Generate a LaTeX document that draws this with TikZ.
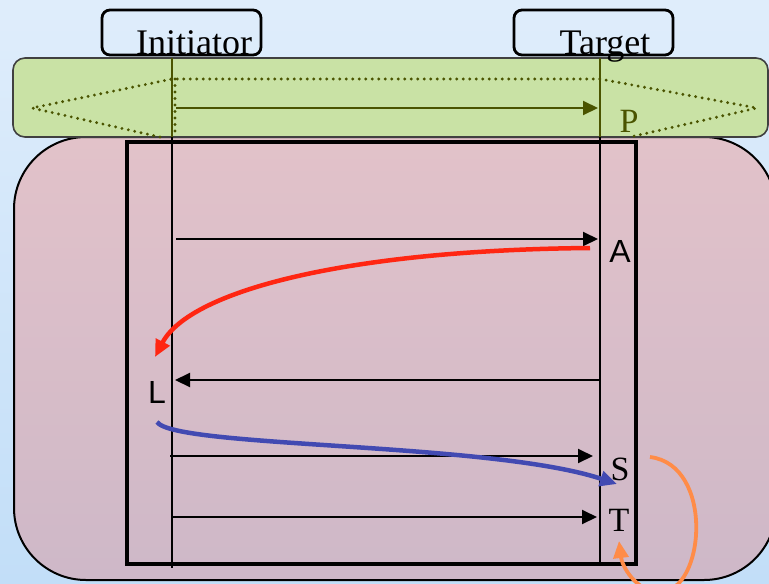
\documentclass[tikz,border=0pt]{standalone}
\usepackage{fontspec}
\setmainfont{Liberation Serif}
\newfontfamily\arialfont{Liberation Sans}
\usetikzlibrary{arrows.meta}

\definecolor{skytop}{RGB}{223,237,251}
\definecolor{skybot}{RGB}{194,222,248}
\definecolor{leaf}{RGB}{201,226,165}
\definecolor{olive}{RGB}{74,84,0}
\definecolor{rosetop}{RGB}{226,194,201}
\definecolor{rosebot}{RGB}{206,184,200}
\definecolor{redline}{RGB}{255,38,18}
\definecolor{blueline}{RGB}{66,74,178}
\definecolor{orangeline}{RGB}{255,140,72}

\tikzset{
  actor/.style={draw=black,line width=2.8pt,rounded corners=8pt,
    minimum width=159pt,minimum height=45pt,inner sep=0pt},
  title/.style={font=\fontsize{36}{40}\selectfont,inner sep=0pt},
  letter/.style={font=\fontsize{34}{38}\selectfont,inner sep=0pt},
  sansletter/.style={font=\arialfont\fontsize{32}{36}\selectfont,inner sep=0pt},
  lifeline/.style={line width=2.8pt},
  dots/.style={olive,line width=3.2pt,line cap=round,dash pattern=on 0pt off 6.5pt},
  msg/.style={line width=2pt,-{Triangle[length=15pt,width=14pt]}},
  flow/.style={line width=4.5pt,-{Triangle[length=17pt,width=15pt]}},
}

\begin{document}
\begin{tikzpicture}[x=1pt,y=-1pt]
  \useasboundingbox (0,0) rectangle (769,584);
  % backdrop
  \shade[top color=skytop,bottom color=skybot] (0,0) rectangle (769,584);

  % session area
  \shadedraw[top color=rosetop,bottom color=rosebot,draw=black,line width=2pt,
    rounded corners=72pt] (14,137) rectangle (776,580);
  % protocol band
  \draw[fill=leaf,draw=black!75,line width=1.6pt,rounded corners=12pt]
    (13,58) rectangle (768,137);
  \draw[dots] (160,137) -- (32,108) -- (172,79) -- (600,79) -- (757,108) -- (630,137);
  \draw[dots] (175,79) -- (175,137);

  % frame
  \draw[line width=4pt] (127,142) rectangle (636,564);

  % actors
  \node[actor] (initbox) at (181.5,32.5) {};
  \node[actor] (tgtbox) at (593.5,32.5) {};
  \node[title,anchor=base] (initname) at (194,54) {Initiator};
  \node[title,anchor=base] (tgtname) at (605,54) {Target};

  % lifelines
  \coordinate (inittop) at (172,58);
  \coordinate (initmid) at (172,137);
  \coordinate (initbot) at (172,568);
  \coordinate (tgttop) at (600,58);
  \coordinate (tgtmid) at (600,137);
  \coordinate (tgtbot) at (600,565);
  \draw[lifeline,olive] (inittop) -- (initmid);
  \draw[lifeline] (initmid) -- (initbot);
  \draw[lifeline,olive] (tgttop) -- (tgtmid);
  \draw[lifeline] (tgtmid) -- (tgtbot);

  % labels
  \node[letter,text=olive] (P) at (629,121) {P};
  \node[sansletter] (A) at (620,251) {A};
  \node[sansletter] (L) at (157,392) {L};
  \node[letter] (S) at (620,469) {S};
  \node[letter] (T) at (619,520) {T};

  % messages
  \coordinate (p1) at (176,108);
  \coordinate (p2) at (598,108);
  \coordinate (a1) at (176,239);
  \coordinate (a2) at (598,239);
  \coordinate (l1) at (600,380);
  \coordinate (l2) at (175,380);
  \coordinate (s1) at (170,456);
  \coordinate (s2) at (593,456);
  \coordinate (t1) at (172,517);
  \coordinate (t2) at (597,517);
  \draw[msg,olive] (p1) -- (p2);
  \draw[msg] (a1) -- (a2);
  \draw[msg] (l1) -- (l2);
  \draw[msg] (s1) -- (s2);
  \draw[msg] (t1) -- (t2);

  % flows
  \coordinate (redstart) at (590,248);
  \coordinate (redend) at (155,357);
  \coordinate (bluestart) at (157,422);
  \coordinate (blueend) at (617,484);
  \coordinate (orangestart) at (650,457);
  \coordinate (orangeend) at (619,541);
  \draw[flow,redline] (redstart)
    .. controls (350,250) and (190,290) .. (redend);
  \draw[flow,blueline] (bluestart)
    .. controls (175,448) and (490,442) .. (blueend);
  \draw[flow,orangeline,line width=3.8pt] (orangestart)
    .. controls (715,465) and (705,592) .. (660,592)
    .. controls (636,592) and (622,566) .. (orangeend);
\end{tikzpicture}
\end{document}
